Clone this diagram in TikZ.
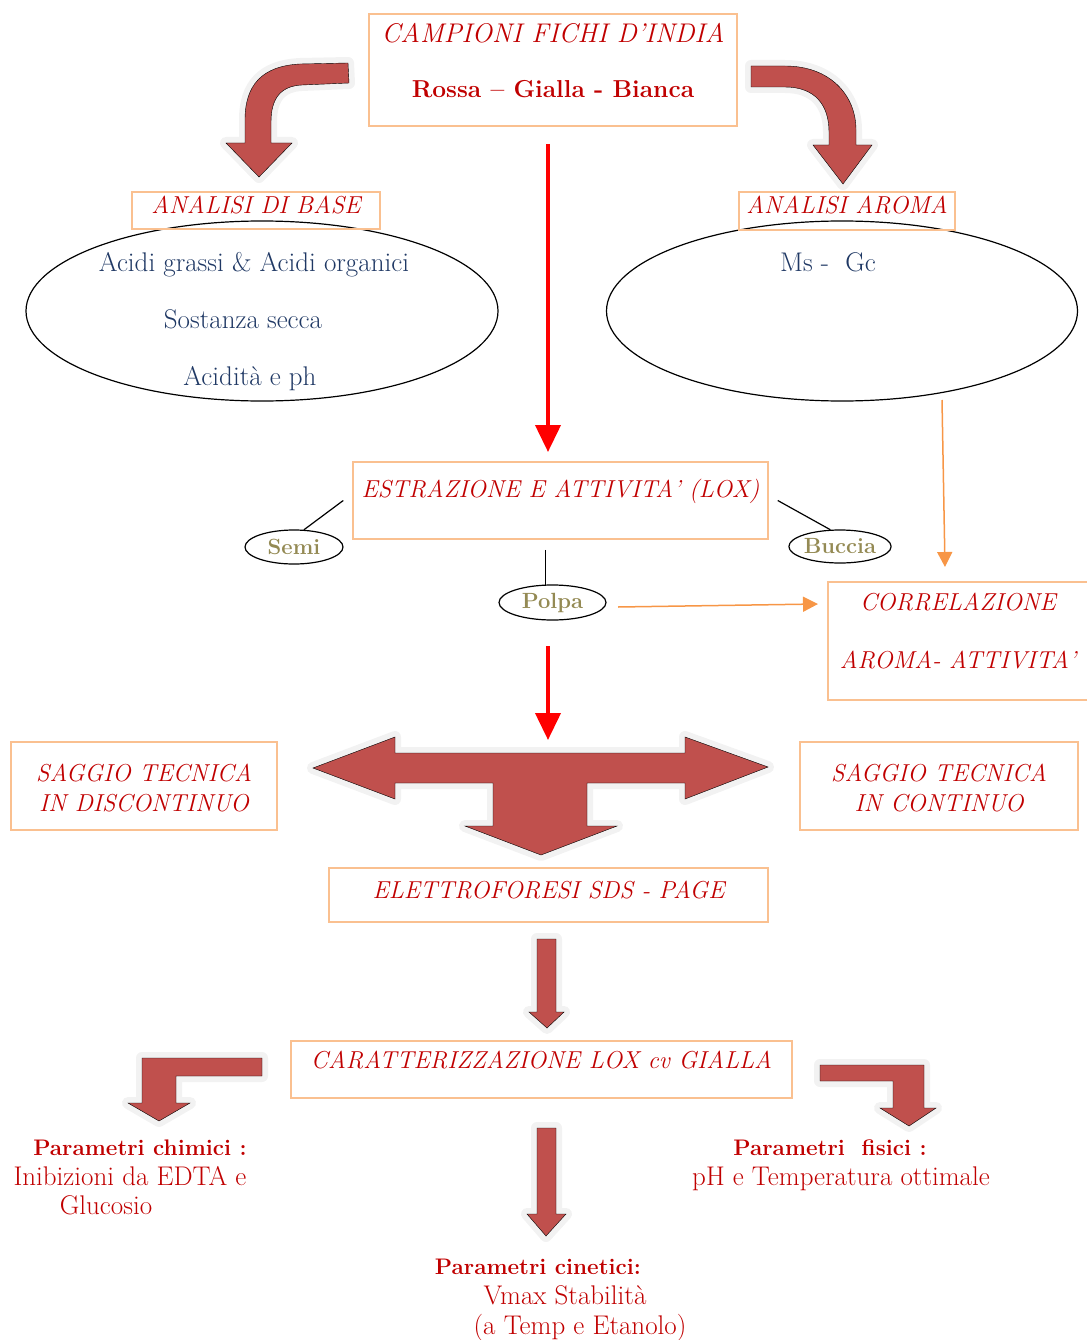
\documentclass[tikz,border=0pt]{standalone}
\usepackage{tikz}
\usetikzlibrary{positioning, arrows.meta, shapes.geometric}

\definecolor{boxorange}{HTML}{FAC090}
\definecolor{titlered}{HTML}{C00000}
\definecolor{arrowred}{HTML}{C0504D}
\definecolor{halogray}{HTML}{F2F2F2}
\definecolor{navyblue}{HTML}{1F3864}
\definecolor{olivetext}{HTML}{948A54}
\definecolor{linkorange}{HTML}{F79646}

\begin{document}
\begin{tikzpicture}[x=1pt, y=-1pt,
	box/.style={draw=boxorange, line width=1.5pt, inner sep=0pt, text=titlered, font=\itshape\fontsize{24.5}{30}\selectfont},
	oval/.style={draw, ellipse, line width=1.2pt, inner sep=0pt},
	part/.style={draw, ellipse, line width=1.2pt, inner sep=0pt, text=olivetext, font=\bfseries\fontsize{22}{26}\selectfont},
	ovaltext/.style={anchor=base, text=navyblue, font=\fontsize{27}{30}\selectfont},
	paramhead/.style={anchor=base, text=titlered, font=\bfseries\fontsize{22.5}{30}\selectfont},
	paramtext/.style={anchor=base, text=titlered, font=\fontsize{27}{30}\selectfont},
	blockarrow/.style={fill=arrowred, preaction={draw=halogray, line width=12pt, line join=round}},
	redlink/.style={draw=red, line width=4pt, -{Triangle[length=27pt,width=25pt]}},
	orangelink/.style={draw=linkorange, line width=1.5pt, -{Triangle[length=15pt,width=15pt]}},
	leg/.style={draw, line width=1.2pt}]

	\useasboundingbox (0,0) rectangle (1086,1340);

	\node[box, minimum width=368pt, text height=29pt, text depth=83pt, font=\itshape\fontsize{27}{55}\selectfont] (campioni) at (553,70)
		{\begin{tabular}[t]{@{}c@{}}CAMPIONI FICHI D'INDIA\\ {\upshape\bfseries\fontsize{24.5}{30}\selectfont Rossa -- Gialla - Bianca}\end{tabular}};

	\draw[blockarrow] (348,63) -- (300,64) .. controls (262,66) and (245,85) .. (245,120) -- (245,143) -- (226,143) -- (259,177) -- (292,143) -- (271,143) -- (271,122) .. controls (271,98) and (281,86) .. (302,85) -- (349,83) -- cycle;
	\draw[blockarrow] (751,66) -- (785,66) .. controls (830,66) and (856,95) .. (856,130) -- (856,145) -- (872,145) -- (843,184) -- (813,145) -- (829,145) -- (829,132) .. controls (829,105) and (815,87) .. (785,87) -- (751,87) -- cycle;

	\node[oval, minimum width=472pt, minimum height=180pt] (baseoval) at (262,311) {};
	\node[oval, minimum width=471pt, minimum height=180pt] (aromaoval) at (842,311) {};
	\node[box, minimum width=248pt, text height=22pt, text depth=15pt] (basebox) at (256,210.5) {ANALISI DI BASE};
	\node[box, minimum width=216pt, text height=22pt, text depth=16pt] (aromabox) at (847,211) {ANALISI AROMA};

	\node[ovaltext] (acidi) at (254,271) {Acidi grassi \& Acidi organici};
	\node[ovaltext] (sostanza) at (243,328) {Sostanza secca};
	\node[ovaltext] (acidita) at (250,385) {Acidità e ph};
	\node[ovaltext] (msgc) at (828,271) {Ms -\ \ Gc};

	\node[box, minimum width=415pt, text height=35pt, text depth=42pt] (estrazione) at (560.5,500.5) {ESTRAZIONE E ATTIVITA' (LOX)};
	\node[part, minimum width=98pt, minimum height=34pt] (semi) at (294,547) {Semi};
	\node[part, minimum width=98pt, minimum height=33pt] (buccia) at (840,546.5) {Buccia};
	\node[part, minimum width=107pt, minimum height=35pt] (polpa) at (552.5,602.5) {Polpa};
	\node[box, minimum width=260pt, text height=28pt, text depth=90pt, font=\itshape\fontsize{24.5}{58}\selectfont] (correlazione) at (958,641)
		{\begin{tabular}[t]{@{}c@{}}CORRELAZIONE\\ AROMA- ATTIVITA'\end{tabular}};

	\coordinate (samplesout) at (548,144);
	\coordinate (loxin) at (548,452);
	\coordinate (polpatop) at ([yshift=-10pt]estrazione.south);
	\coordinate (polpaout) at (618,607);
	\coordinate (corrleft) at (818,604);
	\coordinate (aromaout) at (942,400);
	\coordinate (corrtop) at (945,567);
	\coordinate (loxout) at (548,646);
	\coordinate (saggioin) at (548,740);

	\draw[redlink] (samplesout) -- (loxin);
	\draw[leg] ([xshift=-9pt]estrazione.west) -- (semi.60);
	\draw[leg] ([xshift=9pt]estrazione.east) -- (buccia.120);
	\draw[leg] (polpa.112 |- polpatop) -- (polpa.112);
	\draw[orangelink] (polpaout) -- (corrleft);
	\draw[orangelink] (aromaout) -- (corrtop);
	\draw[redlink] (loxout) -- (saggioin);

	\draw[blockarrow] (313,768) -- (395,737) -- (395,753) -- (685,753) -- (685,737) -- (768,767) -- (685,799) -- (685,783) -- (587,783) -- (587,826) -- (617,826) -- (541,855) -- (465,826) -- (493,826) -- (493,783) -- (395,783) -- (395,799) -- cycle;

	\node[box, minimum width=266pt, text height=39pt, text depth=49pt, font=\itshape\fontsize{24.5}{30}\selectfont] (discontinuo) at (144,786)
		{\begin{tabular}[t]{@{}c@{}}SAGGIO TECNICA\\ IN DISCONTINUO\end{tabular}};
	\node[box, minimum width=278pt, text height=39pt, text depth=49pt, font=\itshape\fontsize{24.5}{30}\selectfont] (continuo) at (939,786)
		{\begin{tabular}[t]{@{}c@{}}SAGGIO TECNICA\\ IN CONTINUO\end{tabular}};
	\node[box, minimum width=439pt, text height=30pt, text depth=24pt] (sdspage) at (548.5,895) {ELETTROFORESI SDS - PAGE};

	\draw[blockarrow] (537,939) -- (556,939) -- (556,1012) -- (564,1012) -- (547,1028) -- (529,1012) -- (537,1012) -- cycle;

	\node[box, minimum width=501pt, text height=27pt, text depth=30pt] (gialla) at (541.5,1069.5) {CARATTERIZZAZIONE LOX cv GIALLA};

	\draw[blockarrow] (262,1058) -- (142,1058) -- (142,1103) -- (128,1103) -- (159,1121) -- (190,1103) -- (176,1103) -- (176,1076) -- (262,1076) -- cycle;
	\draw[blockarrow] (820,1065) -- (924,1065) -- (924,1108) -- (936,1108) -- (909,1126) -- (880,1108) -- (893,1108) -- (893,1081) -- (820,1081) -- cycle;
	\draw[blockarrow] (537,1128) -- (556,1128) -- (556,1214) -- (566,1214) -- (546,1236) -- (527,1214) -- (537,1214) -- cycle;

	\node[paramhead] (chimici) at (140,1155) {Parametri chimici :};
	\node[paramtext] (inibizioni) at (130,1185) {Inibizioni da EDTA e};
	\node[paramtext] (glucosio) at (106,1214) {Glucosio};
	\node[paramhead] (fisici) at (830,1155) {Parametri\ \ fisici :};
	\node[paramtext] (ottimale) at (841,1185) {pH e Temperatura ottimale};
	\node[paramhead] (cinetici) at (538,1274) {Parametri cinetici:};
	\node[paramtext] (vmax) at (565,1304) {Vmax Stabilità};
	\node[paramtext] (etanolo) at (580,1334) {(a Temp e Etanolo)};
\end{tikzpicture}
\end{document}
